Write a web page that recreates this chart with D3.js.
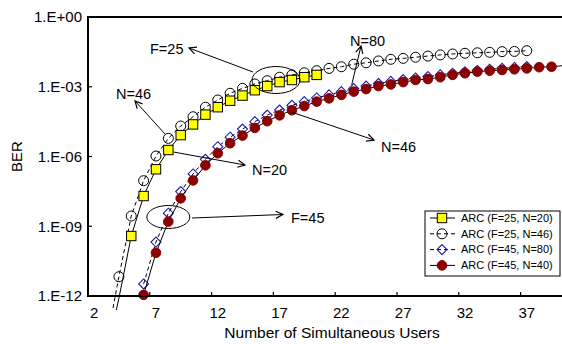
<!DOCTYPE html>
<html>
<head>
<meta charset="utf-8">
<script src="https://cdn.jsdelivr.net/npm/d3@7"></script>
<style>
  body { margin: 0; background: #fff; }
  svg { font-family: "Liberation Sans", Arial, sans-serif; }
</style>
</head>
<body>
<div id="chart"></div>
<script>
// number of simultaneous users (category axis)
var users = d3.range(2, 41);
var tickUsers = [2, 7, 12, 17, 22, 27, 32, 37];
var yTicks = [1e0, 1e-3, 1e-6, 1e-9, 1e-12];

// BER values, stored as log10
var f25n20Users = d3.range(3, 21);
var f25n20 = [-14.5, -12.1, -9.42, -7.70, -6.55, -5.72, -5.08, -4.62, -4.20, -3.88, -3.60, -3.38, -3.15, -2.97, -2.80, -2.71, -2.59, -2.49];

var f25n46Users = d3.range(3, 38);
var f25n46 = [-14.0, -11.17, -8.56, -7.04, -5.98, -5.22, -4.69, -4.29, -3.88, -3.57, -3.28, -3.07, -2.88, -2.74, -2.59,
  -2.49, -2.40, -2.31, -2.21, -2.14, -2.03, -1.97, -1.89, -1.82, -1.78, -1.73, -1.68, -1.63, -1.59, -1.56,
  -1.54, -1.52, -1.49, -1.48, -1.45];

var f45n80Users = d3.range(6, 38);
var f45n80 = [-11.48, -9.68, -8.44, -7.51, -6.75, -6.12, -5.58, -5.17, -4.82, -4.50, -4.22, -4.00, -3.80, -3.64,
  -3.48, -3.35, -3.21, -3.08, -2.97, -2.86, -2.77, -2.69, -2.62, -2.56, -2.49, -2.42, -2.36, -2.30, -2.25,
  -2.21, -2.17, -2.13];

var f45n40Users = d3.range(6, 41);
var f45n40 = [-11.95, -10.14, -8.80, -7.80, -7.03, -6.38, -5.86, -5.43, -5.10, -4.77, -4.48, -4.23, -4.01, -3.83,
  -3.64, -3.50, -3.35, -3.21, -3.10, -2.97, -2.90, -2.80, -2.71, -2.67, -2.59, -2.49, -2.42, -2.35, -2.31,
  -2.28, -2.25, -2.21, -2.16, -2.14, -2.09];

var width = 562, height = 344;
var margin = {top: 17, left: 88, bottom: 48};

var svg = d3.select("#chart").append("svg")
    .attr("width", width)
    .attr("height", height);

var x = d3.scaleBand()
    .domain(users)
    .range([margin.left, margin.left + users.length * 12.36]);
var cx = function(c){ return x(c) + x.bandwidth() / 2; };

var y = d3.scaleLog()
    .domain([1e-12, 1])
    .range([height - margin.bottom, margin.top]);

var plotRight = margin.left + users.length * 12.36;
var plotBottom = height - margin.bottom;

var defs = svg.append("defs");
defs.append("clipPath").attr("id", "clipLines")
  .append("rect")
    .attr("x", margin.left).attr("y", margin.top)
    .attr("width", plotRight - margin.left).attr("height", plotBottom - margin.top + 14);
defs.append("marker")
    .attr("id", "arrow")
    .attr("viewBox", "0 0 10 10")
    .attr("refX", 9).attr("refY", 5)
    .attr("markerWidth", 9).attr("markerHeight", 9)
    .attr("markerUnits", "userSpaceOnUse")
    .attr("orient", "auto")
  .append("path")
    .attr("d", "M1,1 L9,5 L1,9")
    .style("fill", "none")
    .style("stroke", "#000")
    .style("stroke-width", 1.3);

function toPoints(us, vals){
    return us.map(function(u, i){ return {u: u, v: Math.pow(10, vals[i])}; });
}

var series = [
    {name: "ARC (F=25, N=46)", data: toPoints(f25n46Users, f25n46), dash: "4,3", marker: "circle"},
    {name: "ARC (F=25, N=20)", data: toPoints(f25n20Users, f25n20), dash: null, marker: "square"},
    {name: "ARC (F=45, N=80)", data: toPoints(f45n80Users, f45n80), dash: "4,3", marker: "diamond"},
    {name: "ARC (F=45, N=40)", data: toPoints(f45n40Users, f45n40), dash: null, marker: "dot"}
];

var line = d3.line()
    .x(function(d){ return cx(d.u); })
    .y(function(d){ return y(d.v); });

function drawMarker(g, type, px, py){
    if(type == "square"){
        g.append("rect")
            .attr("x", px - 4.7).attr("y", py - 4.7)
            .attr("width", 9.4).attr("height", 9.4)
            .style("fill", "#ffff00").style("stroke", "#000").style("stroke-width", 1);
    } else if(type == "circle"){
        g.append("circle")
            .attr("cx", px).attr("cy", py).attr("r", 5)
            .style("fill", "none").style("stroke", "#000").style("stroke-width", 1);
    } else if(type == "diamond"){
        g.append("path")
            .attr("d", "M" + px + "," + (py - 5) + " L" + (px + 5) + "," + py + " L" + px + "," + (py + 5) + " L" + (px - 5) + "," + py + " Z")
            .style("fill", "none").style("stroke", "#1c1ca8").style("stroke-width", 1.1);
    } else {
        g.append("circle")
            .attr("cx", px).attr("cy", py).attr("r", 4.8)
            .style("fill", "#8b0000").style("stroke", "#8b0000");
    }
}

var plot = svg.append("g");

series.forEach(function(s){
    plot.append("path")
        .datum(s.data)
        .attr("clip-path", "url(#clipLines)")
        .attr("d", line)
        .style("fill", "none")
        .style("stroke", "#000")
        .style("stroke-width", 1)
        .style("stroke-dasharray", s.dash);
    var mg = plot.append("g");
    s.data.forEach(function(d){
        if(d.v >= 1e-12 && cx(d.u) < width){
            drawMarker(mg, s.marker, cx(d.u), y(d.v));
        }
    });
});

/* ------- AXES -------*/
var axes = svg.append("g");
axes.append("path")
    .attr("d", "M" + plotRight + "," + margin.top + " H" + margin.left + " V" + plotBottom + " H" + plotRight)
    .style("fill", "none").style("stroke", "#000").style("stroke-width", 2);

function expLabel(t){
    var e = Math.round(Math.log10(t));
    return "1.E" + (e < 0 ? "-" : "+") + d3.format("02d")(Math.abs(e));
}

yTicks.forEach(function(t){
    axes.append("line")
        .attr("x1", margin.left).attr("x2", margin.left + 4)
        .attr("y1", y(t)).attr("y2", y(t))
        .style("stroke", "#000").style("stroke-width", 1.2);
    axes.append("text")
        .attr("x", margin.left - 6).attr("y", y(t))
        .attr("dy", "0.35em")
        .attr("text-anchor", "end")
        .style("font-size", "15px")
        .text(expLabel(t));
});

tickUsers.forEach(function(u){
    if(u > 2){
        axes.append("line")
            .attr("x1", x(u)).attr("x2", x(u))
            .attr("y1", plotBottom).attr("y2", plotBottom - 4)
            .style("stroke", "#000").style("stroke-width", 1.2);
    }
    axes.append("text")
        .attr("x", cx(u)).attr("y", plotBottom + 17)
        .attr("dy", "0.35em")
        .attr("text-anchor", "middle")
        .style("font-size", "15px")
        .text(u);
});

svg.append("text")
    .attr("x", 332).attr("y", 333)
    .attr("dy", "0.35em")
    .attr("text-anchor", "middle")
    .style("font-size", "15.5px")
    .text("Number of Simultaneous Users");

svg.append("text")
    .attr("transform", "translate(17," + (y(1e-6)) + ") rotate(-90)")
    .attr("dy", "0.35em")
    .attr("text-anchor", "middle")
    .style("font-size", "15px")
    .text("BER");

/* ------- ANNOTATIONS -------*/
var ann = svg.append("g");
function pt(us, vals, u){ return [cx(u), y(Math.pow(10, vals[us.indexOf(u)]))]; }
function arrow(from, to){
    ann.append("line")
        .attr("x1", from[0]).attr("y1", from[1])
        .attr("x2", to[0]).attr("y2", to[1])
        .attr("marker-end", "url(#arrow)")
        .style("stroke", "#000").style("stroke-width", 1);
}
function label(txt, px, py){
    ann.append("text")
        .attr("x", px).attr("y", py)
        .attr("dy", "0.35em")
        .style("font-size", "14.5px")
        .text(txt);
}

ann.append("ellipse")
    .attr("cx", 276).attr("cy", 80).attr("rx", 24).attr("ry", 13.5)
    .style("fill", "none").style("stroke", "#000");
ann.append("ellipse")
    .attr("cx", cx(8)).attr("cy", 217).attr("rx", 21.5).attr("ry", 11.5)
    .style("fill", "none").style("stroke", "#000");

arrow([253, 72], [189, 48]);
label("F=25", 150, 49);

var p = pt(f25n46Users, f25n46, 8);
arrow([p[0] - 3, p[1] - 4], [135, 101]);
label("N=46", 116, 94);

p = pt(f25n20Users, f25n20, 8);
arrow([p[0] + 5, p[1] + 2], [245, 165]);
label("N=20", 252, 170);

p = pt(f45n80Users, f45n80, 23);
arrow([p[0] - 2, p[1] - 4], [361, 46]);
label("N=80", 350, 41);

p = pt(f45n40Users, f45n40, 18);
arrow([p[0], p[1] + 2], [374, 140]);
label("N=46", 381, 147);

arrow([192, 218], [283, 214.5]);
label("F=45", 291, 218);

/* ------- LEGEND -------*/
var legend = svg.append("g").attr("transform", "translate(425,211)");
legend.append("rect")
    .attr("width", 135).attr("height", 65)
    .style("fill", "#fff").style("stroke", "#000").style("stroke-width", 1);
var legendOrder = [1, 0, 2, 3];
legendOrder.forEach(function(si, i){
    var s = series[si];
    var ly = 7 + i * 15.8;
    var g = legend.append("g");
    g.append("line")
        .attr("x1", 5).attr("x2", 30)
        .attr("y1", ly).attr("y2", ly)
        .style("stroke", "#000").style("stroke-width", 1)
        .style("stroke-dasharray", s.dash);
    drawMarker(g, s.marker, 17, ly);
    g.append("text")
        .attr("x", 36).attr("y", ly)
        .attr("dy", "0.35em")
        .style("font-size", "11px")
        .text(s.name);
});
</script>
</body>
</html>
